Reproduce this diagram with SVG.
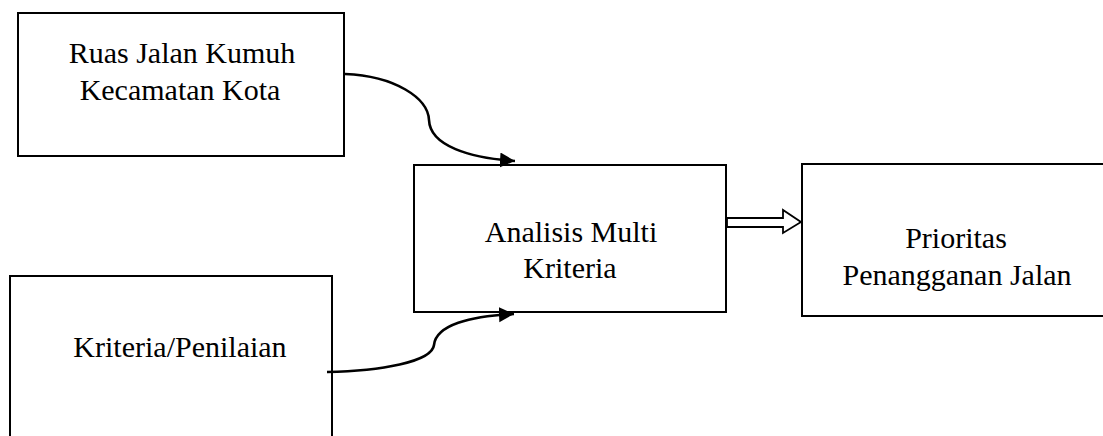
<svg xmlns="http://www.w3.org/2000/svg" width="1103" height="436" viewBox="0 0 1103 436">
  <style>
    .box { fill: #ffffff; stroke: #000000; stroke-width: 2; }
    .lbl { font-family: "Liberation Serif", "Times New Roman", serif; font-size: 30px; fill: #000000; text-anchor: middle; }
    .curve { fill: none; stroke: #000000; stroke-width: 2.6; }
    .hollow { fill: #ffffff; stroke: #000000; stroke-width: 1.8; stroke-linejoin: miter; }
  </style>
  <defs>
    <marker id="ah" markerUnits="userSpaceOnUse" markerWidth="16" markerHeight="16" refX="15" refY="7.5" orient="auto">
      <path d="M0,0 L15,7.5 L0,15 z" fill="#000000"/>
    </marker>
  </defs>
  <rect width="1103" height="436" fill="#ffffff"/>

  <g id="node-ruas">
    <rect class="box" x="18" y="13" width="326" height="143"/>
    <text class="lbl" x="182" y="63">Ruas Jalan Kumuh</text>
    <text class="lbl" x="180" y="100">Kecamatan Kota</text>
  </g>

  <g id="node-kriteria">
    <rect class="box" x="10" y="276" width="322" height="180"/>
    <text class="lbl" x="180" y="357">Kriteria/Penilaian</text>
  </g>

  <g id="node-analisis">
    <rect class="box" x="414" y="165" width="312" height="147"/>
    <text class="lbl" x="571" y="242">Analisis Multi</text>
    <text class="lbl" x="570" y="278">Kriteria</text>
  </g>

  <g id="node-prioritas">
    <rect class="box" x="802" y="164" width="310" height="152"/>
    <text class="lbl" x="956" y="248">Prioritas</text>
    <text class="lbl" x="957" y="285">Penangganan Jalan</text>
  </g>

  <g id="connectors">
    <path class="curve" d="M345,74 C395,76 428,98 429,120 C430,146 470,158 515,161" marker-end="url(#ah)"/>
    <path class="curve" d="M327,372 C380,371 432,362 434,345 C436,325 470,316 514,314" marker-end="url(#ah)"/>
    <path class="hollow" d="M727,218 L783,218 L783,210 L801,222 L783,233 L783,227 L727,227 Z"/>
  </g>
</svg>
